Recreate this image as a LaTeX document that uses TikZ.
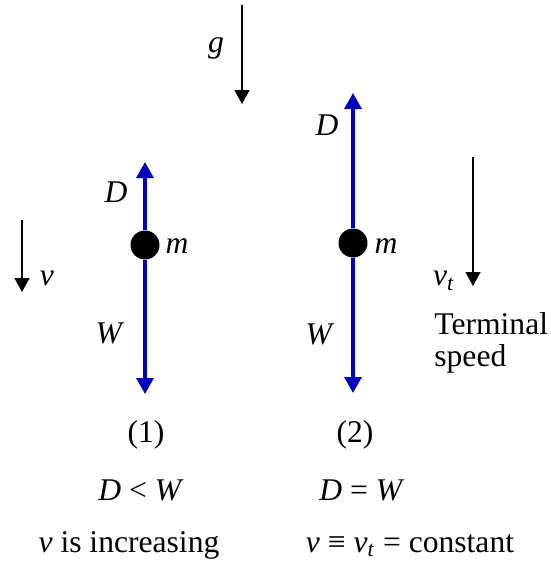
\documentclass[tikz,border=0pt]{standalone}
\usepackage{fontspec}
\setmainfont{Liberation Serif}
\usepackage{xcolor}
\usepackage{tikz}
\usetikzlibrary{arrows.meta}
\definecolor{forceblue}{RGB}{0,0,190}

\begin{document}
\begin{tikzpicture}[x=0.5pt,y=-0.5pt,font=\fontsize{15.8}{18}\selectfont,
  vec/.style={line width=0.8pt,-{Triangle[width=7.5pt,length=7pt]}},
  force/.style={forceblue,line width=1.6pt,-{Triangle[width=8.5pt,length=8pt]}},
  mass/.style={circle,fill=black,inner sep=0pt,minimum size=14.5pt}]
\useasboundingbox (0,0) rectangle (551,562);
% gravity
\coordinate (gtop) at (242,5); \coordinate (gtip) at (242,104);
\draw[vec] (gtop) -- (gtip);
\node (g) at (216,48) {\textit{g}};
% case (1): accelerating
\node[mass] (m1) at (145,245) {};
\coordinate (D1) at (145,162); \coordinate (W1) at (145,394);
\draw[force] (m1) -- (D1); \draw[force] (m1) -- (W1);
\node (D1lab) at (116,192) {\textit{D}};
\node (m1lab) at (177,246) {\textit{m}};
\node (W1lab) at (110,333) {\textit{W}};
\coordinate (vtop) at (22,220); \coordinate (vtip) at (22,292);
\draw[vec] (vtop) -- (vtip);
\node (v) at (47,278) {\textit{v}};
% case (2): terminal speed
\node[mass] (m2) at (353,243) {};
\coordinate (D2) at (353,93); \coordinate (W2) at (353,393);
\draw[force] (m2) -- (D2); \draw[force] (m2) -- (W2);
\node (D2lab) at (327,125) {\textit{D}};
\node (m2lab) at (386,246) {\textit{m}};
\node (W2lab) at (320,334) {\textit{W}};
\coordinate (vttop) at (473,157); \coordinate (vttip) at (473,286);
\draw[vec] (vttop) -- (vttip);
\node (vt) at (444,281) {\textit{v}\textsubscript{\textit{t}}};
\node[align=left,anchor=north west,inner sep=0pt,font=\fontsize{15.8}{16}\selectfont] (term) at (434,312) {Terminal\\speed};
% captions
\node (c1) at (146,435) {(1)};
\node (c2) at (355,435) {(2)};
\node (r1) at (141,490) {\textit{D} < \textit{W}};
\node (r2) at (362,490) {\textit{D} = \textit{W}};
\node (s1) at (129,545) {\textit{v} is increasing};
\node (s2) at (410,546) {\textit{v} ≡ \textit{v}\textsubscript{\textit{t}} = constant};
\end{tikzpicture}
\end{document}
